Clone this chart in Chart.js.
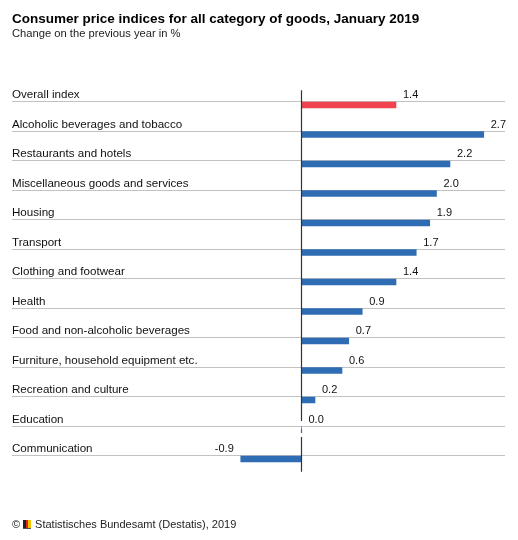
<!DOCTYPE html>
<html>
<head>
<meta charset="utf-8">
<script src="https://cdn.jsdelivr.net/npm/chart.js@4/dist/chart.umd.min.js"></script>
<style>
  html, body { margin: 0; padding: 0; background: #fff; }
  #wrap { position: relative; width: 518px; height: 540px; font-family: 'Liberation Sans', Arial, sans-serif; color: #000; }
  #box { position: absolute; left: 0; top: 0; width: 518px; height: 540px; }
  .title { position: absolute; left: 12px; top: 11.5px; font-size: 13.5px; line-height: 13.5px; font-weight: bold; white-space: nowrap; }
  .sub { position: absolute; left: 12px; top: 27.5px; font-size: 11.2px; line-height: 11.2px; white-space: nowrap; color: #222; }
  .foot { position: absolute; left: 12px; top: 519px; font-size: 11px; line-height: 11px; white-space: nowrap; color: #222; }
  .flag { display: inline-block; width: 8px; height: 8px; margin: 0 4px 0 3px; vertical-align: -1px;
          background: linear-gradient(to right, #222 0 33%, #d22 33% 66%, #f2c200 66% 100%); border-bottom: 1px solid #555; }
</style>
</head>
<body>
<div id="wrap">
  <div id="box"><canvas id="chart"></canvas></div>
  <div class="title">Consumer price indices for all category of goods, January 2019</div>
  <div class="sub">Change on the previous year in %</div>
  <div class="foot">©<span class="flag"></span>Statistisches Bundesamt (Destatis), 2019</div>
</div>
<script>
const categories = [
  'Overall index',
  'Alcoholic beverages and tobacco',
  'Restaurants and hotels',
  'Miscellaneous goods and services',
  'Housing',
  'Transport',
  'Clothing and footwear',
  'Health',
  'Food and non-alcoholic beverages',
  'Furniture, household equipment etc.',
  'Recreation and culture',
  'Education',
  'Communication'
];
const values = [1.4, 2.7, 2.2, 2.0, 1.9, 1.7, 1.4, 0.9, 0.7, 0.6, 0.2, 0.0, -0.9];

const RED = '#ef4450';
const BLUE = '#2e6db3';
const colors = values.map((v, i) => i === 0 ? RED : BLUE);
const LABEL_FONT = "11.6px 'Liberation Sans', Arial, sans-serif";
const VALUE_FONT = "11px 'Liberation Sans', Arial, sans-serif";

// gridlines, category labels, value labels and zero axis
const rowDecor = {
  id: 'rowDecor',
  beforeDatasetsDraw(chart) {
    const { ctx, chartArea } = chart;
    const bars = chart.getDatasetMeta(0).data;
    ctx.save();
    ctx.strokeStyle = '#c2c2c2';
    ctx.lineWidth = 1;
    bars.forEach(bar => {
      const y = Math.round(bar.y - bar.height / 2) - 0.5;
      ctx.beginPath();
      ctx.moveTo(chartArea.left, y);
      ctx.lineTo(chartArea.right, y);
      ctx.stroke();
    });
    ctx.restore();
  },
  afterDatasetsDraw(chart) {
    const { ctx, chartArea } = chart;
    const xs = chart.scales.x;
    const bars = chart.getDatasetMeta(0).data;
    const x0 = Math.round(xs.getPixelForValue(0)) + 0.5;
    ctx.save();
    ctx.fillStyle = '#111';
    ctx.textBaseline = 'alphabetic';
    bars.forEach((bar, i) => {
      const grid = Math.round(bar.y - bar.height / 2);
      ctx.font = LABEL_FONT;
      ctx.textAlign = 'left';
      ctx.fillText(categories[i], chartArea.left, grid - 4);
      const v = values[i];
      const end = xs.getPixelForValue(v);
      ctx.font = VALUE_FONT;
      if (v < 0) {
        ctx.textAlign = 'right';
        ctx.fillText(v.toFixed(1), end - 7, grid - 4);
      } else {
        ctx.textAlign = 'left';
        ctx.fillText(v.toFixed(1), end + 7, grid - 4);
      }
    });
    // zero axis, broken where a bar has no length
    ctx.strokeStyle = '#333';
    ctx.lineWidth = 1.2;
    let yStart = chartArea.top;
    bars.forEach((bar, i) => {
      if (values[i] === 0) {
        const grid = Math.round(bar.y - bar.height / 2);
        ctx.beginPath();
        ctx.moveTo(x0, yStart);
        ctx.lineTo(x0, grid - 6);
        ctx.stroke();
        ctx.save();
        ctx.strokeStyle = colors[i];
        ctx.beginPath();
        ctx.moveTo(x0, grid + 2);
        ctx.lineTo(x0, grid + 6);
        ctx.stroke();
        ctx.restore();
        yStart = grid + 10;
      }
    });
    ctx.beginPath();
    ctx.moveTo(x0, yStart);
    ctx.lineTo(x0, chartArea.bottom - 2);
    ctx.stroke();
    ctx.restore();
  }
};

new Chart(document.getElementById('chart'), {
  type: 'bar',
  data: {
    labels: categories,
    datasets: [{
      data: values,
      backgroundColor: colors,
      borderWidth: 0,
      barThickness: 6
    }]
  },
  options: {
    indexAxis: 'y',
    responsive: true,
    maintainAspectRatio: false,
    animation: false,
    layout: { padding: { top: 90.25, bottom: 66.25, left: 12, right: 13 } },
    plugins: {
      legend: { display: false },
      tooltip: { enabled: false }
    },
    scales: {
      x: { display: false, min: -4.289, max: 3.015 },
      y: { display: false }
    }
  },
  plugins: [rowDecor]
});
</script>
</body>
</html>
